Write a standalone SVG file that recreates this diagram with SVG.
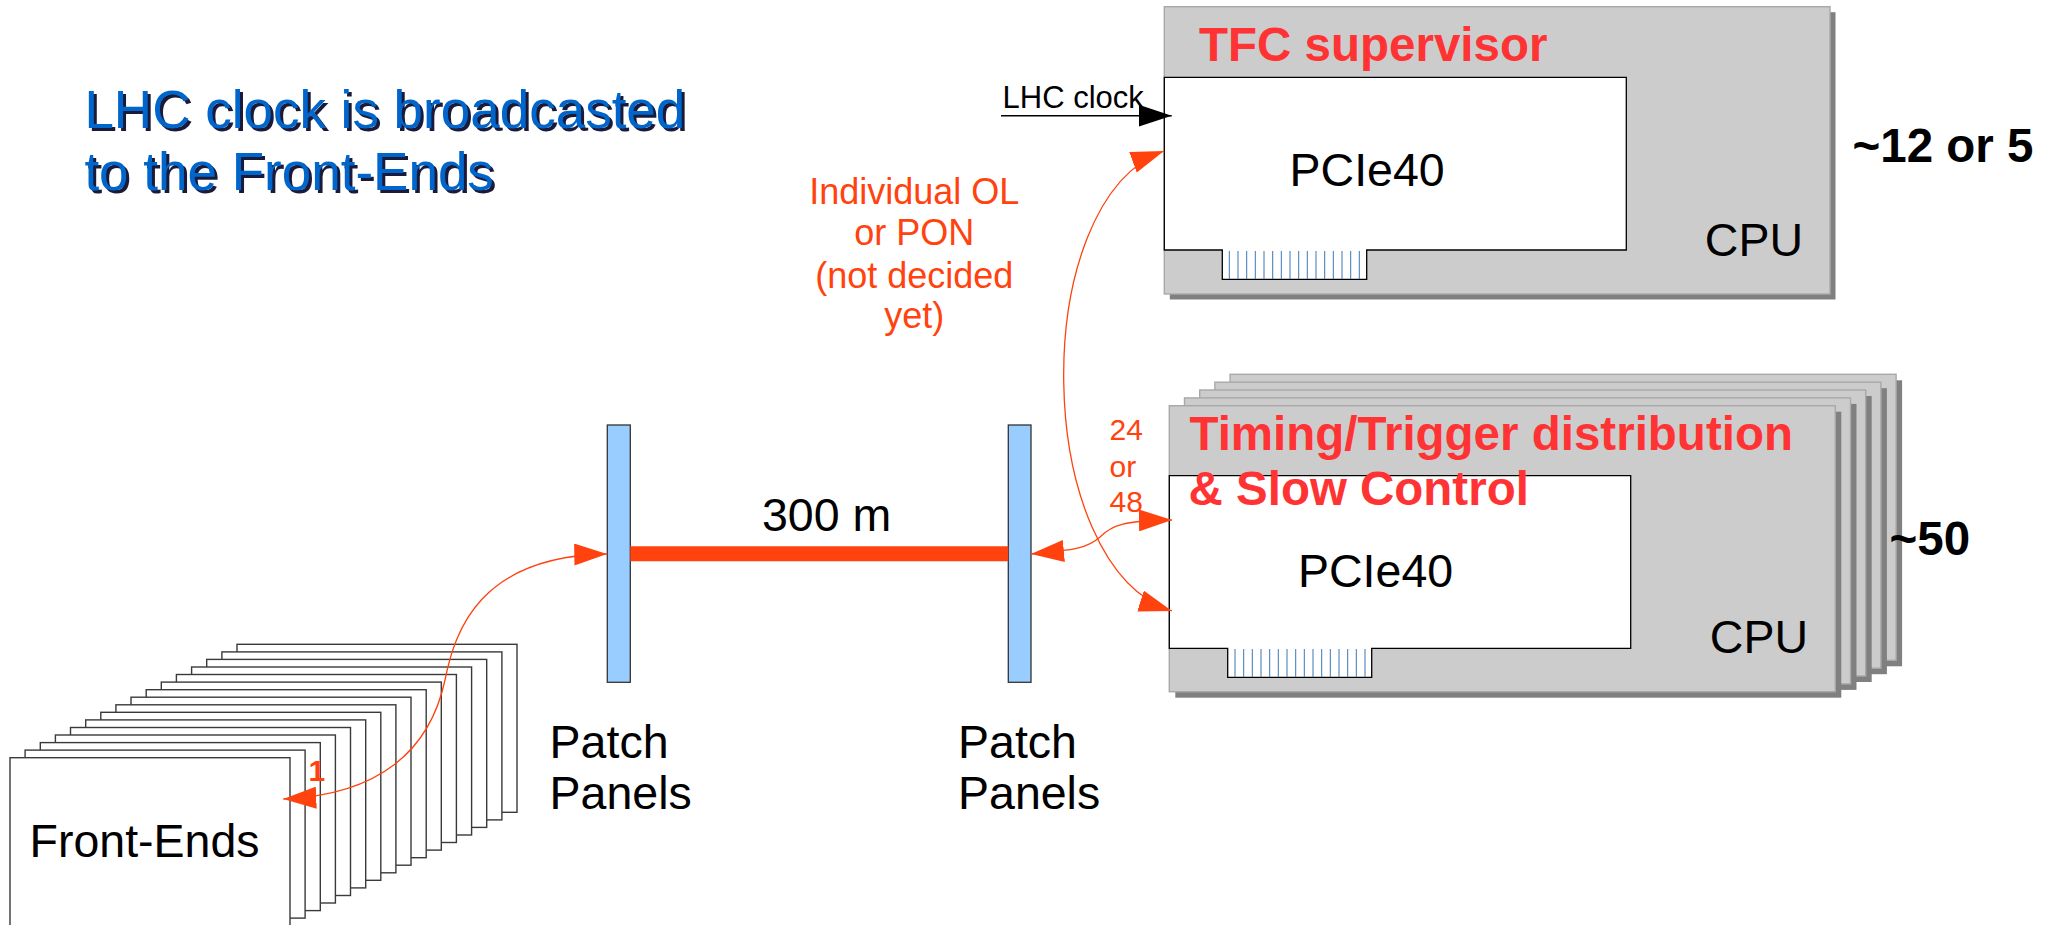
<svg xmlns="http://www.w3.org/2000/svg" width="2054" height="925" viewBox="0 0 2054 925">
  <style>
    text { font-family: "Liberation Sans", Arial, sans-serif; }
    .title { font-size: 53px; }
    .title-fg { fill: #0066cc; }
    .title-sh { fill: #1a1a3a; }
    .lbl { font-size: 46.5px; fill: #000; }
    .big { font-size: 47.5px; font-weight: bold; fill: #000; }
    .head { font-size: 47.5px; font-weight: bold; fill: #ff3333; }
    .note { font-size: 36px; fill: #ff420e; }
    .small { font-size: 30px; fill: #ff420e; }
    .clk { font-size: 31px; fill: #000; }
    .fe { fill: #fff; stroke: #3a3a3a; stroke-width: 1.4; }
    .cpu { fill: #cccccc; stroke: #a8a8a8; stroke-width: 1.4; }
    .shadow { fill: #808080; }
    .card { fill: #fff; stroke: #000; stroke-width: 1.3; }
    .pins { stroke: #3a78b8; stroke-width: 1; fill: none; }
    .panel { fill: #99ccff; stroke: #333; stroke-width: 1.3; }
    .fibre { fill: none; stroke: #ff420e; stroke-width: 1.3; }
    .trunk { fill: none; stroke: #ff420e; stroke-width: 15; }
    .wire { fill: none; stroke: #000; stroke-width: 1.4; }
  </style>
  <defs>
    <marker id="headOrange" markerUnits="userSpaceOnUse" viewBox="0 0 33 22" markerWidth="33" markerHeight="22" refX="33" refY="11" orient="auto-start-reverse">
      <path d="M0,0 L33,11 L0,22 z" fill="#ff420e"/>
    </marker>
    <marker id="headBlack" markerUnits="userSpaceOnUse" viewBox="0 0 33 22" markerWidth="33" markerHeight="22" refX="33" refY="11" orient="auto">
      <path d="M0,0 L33,11 L0,22 z" fill="#000"/>
    </marker>
    <rect id="feCard" width="280" height="168" class="fe"/>
    <g id="cpuBox">
      <rect x="6" y="6" width="666" height="286" class="shadow"/>
      <rect x="0" y="0" width="666" height="286" class="cpu"/>
    </g>
  </defs>

  <!-- heading -->
  <g id="title">
    <text class="title title-sh" x="87.4" y="131">LHC clock is broadcasted</text>
    <text class="title title-sh" x="87.4" y="193">to the Front-Ends</text>
    <text class="title title-fg" x="84.4" y="128">LHC clock is broadcasted</text>
    <text class="title title-fg" x="84.4" y="190">to the Front-Ends</text>
  </g>

  <!-- stack of front-end boards, back to front -->
  <g id="frontends">
    <use href="#feCard" x="237" y="644.3"/>
    <use href="#feCard" x="221.9" y="651.9"/>
    <use href="#feCard" x="206.7" y="659.4"/>
    <use href="#feCard" x="191.6" y="667"/>
    <use href="#feCard" x="176.4" y="674.5"/>
    <use href="#feCard" x="161.3" y="682.1"/>
    <use href="#feCard" x="146.2" y="689.7"/>
    <use href="#feCard" x="131" y="697.2"/>
    <use href="#feCard" x="115.9" y="704.8"/>
    <use href="#feCard" x="100.8" y="712.3"/>
    <use href="#feCard" x="85.7" y="719.9"/>
    <use href="#feCard" x="70.5" y="727.5"/>
    <use href="#feCard" x="55.4" y="735"/>
    <use href="#feCard" x="40.3" y="742.6"/>
    <use href="#feCard" x="25.1" y="750.1"/>
    <use href="#feCard" x="10" y="757.7"/>
    <text class="lbl" x="29.6" y="857.3">Front-Ends</text>
  </g>

  <!-- patch panels -->
  <g id="panel-left">
    <rect x="607.3" y="425" width="23" height="257.3" class="panel"/>
    <text class="lbl" x="549.6" y="757.7">Patch</text>
    <text class="lbl" x="549.6" y="809.3">Panels</text>
  </g>
  <g id="panel-right">
    <rect x="1008.3" y="425" width="22.7" height="257.3" class="panel"/>
    <text class="lbl" x="958" y="757.7">Patch</text>
    <text class="lbl" x="958" y="809.3">Panels</text>
  </g>

  <!-- TFC supervisor host -->
  <g id="tfc-supervisor">
    <rect x="1169.8" y="12.2" width="665.7" height="287.3" class="shadow"/>
    <rect x="1164.3" y="6.7" width="665.7" height="287.3" class="cpu"/>
    <path class="card" d="M1164.3,77.3 H1626.3 V250 H1366.7 V279.3 H1222.3 V250 H1164.3 Z"/>
    <path class="pins" d="M1229.3,251 V279 M1238,251 V279 M1246.7,251 V279 M1255.3,251 V279 M1264,251 V279 M1272.7,251 V279 M1281.3,251 V279 M1290,251 V279 M1298.7,251 V279 M1307.3,251 V279 M1316,251 V279 M1324.7,251 V279 M1333.3,251 V279 M1342,251 V279 M1350.7,251 V279 M1359.3,251 V279"/>
    <text class="head" x="1199" y="61">TFC supervisor</text>
    <text class="lbl" x="1289.6" y="186">PCIe40</text>
    <text class="lbl" x="1704.8" y="256">CPU</text>
  </g>
  <text id="count-tfc" class="big" x="1852.5" y="161.7">~12 or 5</text>

  <!-- stack of readout/control hosts -->
  <g id="tfc-distribution">
    <use href="#cpuBox" x="1230.1" y="374.3"/>
    <use href="#cpuBox" x="1214.9" y="382.2"/>
    <use href="#cpuBox" x="1199.7" y="390"/>
    <use href="#cpuBox" x="1184.5" y="397.9"/>
    <use href="#cpuBox" x="1169.3" y="405.7"/>
    <path class="card" d="M1169.3,475.7 H1630.7 V648.3 H1371.7 V677.3 H1227.7 V648.3 H1169.3 Z"/>
    <path class="pins" d="M1235,649 V677 M1243.7,649 V677 M1252.3,649 V677 M1261,649 V677 M1269.7,649 V677 M1278.3,649 V677 M1287,649 V677 M1295.7,649 V677 M1304.3,649 V677 M1313,649 V677 M1321.7,649 V677 M1330.3,649 V677 M1339,649 V677 M1347.7,649 V677 M1356.3,649 V677 M1365,649 V677"/>
    <text class="head" x="1189.5" y="450">Timing/Trigger distribution</text>
    <text class="head" x="1188.5" y="505">&amp; Slow Control</text>
    <text class="lbl" x="1298" y="586.7">PCIe40</text>
    <text class="lbl" x="1709.8" y="653.3">CPU</text>
  </g>
  <text id="count-dist" class="big" x="1889.5" y="555">~50</text>

  <!-- link annotations -->
  <g id="notes">
    <text class="note" text-anchor="middle" x="914.3" y="203.5">Individual OL</text>
    <text class="note" text-anchor="middle" x="914.3" y="245">or PON</text>
    <text class="note" text-anchor="middle" x="914.3" y="287.5">(not decided</text>
    <text class="note" text-anchor="middle" x="914.3" y="328">yet)</text>
    <text class="small" x="1109.5" y="440">24</text>
    <text class="small" x="1109.5" y="476.5">or</text>
    <text class="small" x="1109.5" y="512">48</text>
    <text class="small" x="308.5" y="780.7" font-weight="bold">1</text>
    <text class="clk" x="1002.5" y="107.7">LHC clock</text>
    <text class="lbl" x="762" y="531">300 m</text>
  </g>

  <!-- connectors -->
  <g id="connectors">
    <path class="trunk" d="M630.3,553.7 H1008.3"/>
    <path class="wire" d="M1001,115.7 H1171.7" marker-end="url(#headBlack)"/>
    <path class="fibre" d="M1164,151 C1026,201 1032,567 1172,611" marker-start="url(#headOrange)" marker-end="url(#headOrange)"/>
    <path class="fibre" d="M1031,554 C1075,550 1088,548 1100,537 C1112,525 1125,520.5 1172,520" marker-start="url(#headOrange)" marker-end="url(#headOrange)"/>
    <path class="fibre" d="M283.3,799 C380,795 430,750 445,680 C455,630 480,556 607.3,554" marker-start="url(#headOrange)" marker-end="url(#headOrange)"/>
  </g>
</svg>
